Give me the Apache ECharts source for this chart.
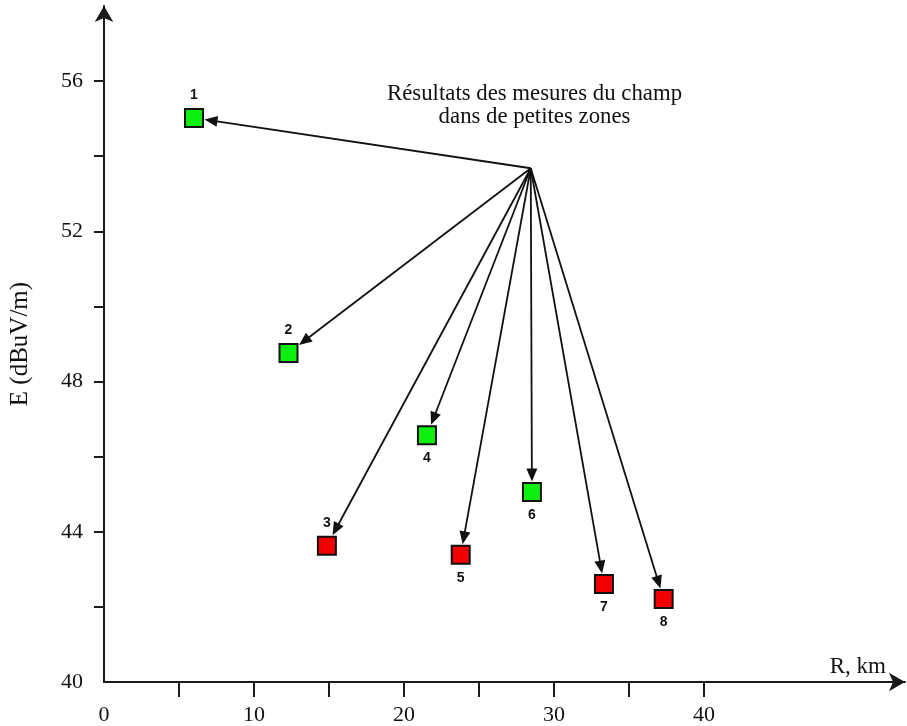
<!DOCTYPE html>
<html>
<head>
<meta charset="utf-8">
<script src="https://cdn.jsdelivr.net/npm/echarts@6/dist/echarts.min.js"></script>
<style>
html,body{margin:0;padding:0;background:#fff;}
#chart{width:907px;height:726px;}
</style>
</head>
<body>
<div id="chart"></div>
<script>
// ---- data ----
var pointIds = ['1', '2', '3', '4', '5', '6', '7', '8'];
var distanceKm = [6.0, 12.3, 14.86, 21.53, 23.78, 28.53, 33.33, 37.31];
var fieldDbuv = [55.02, 48.76, 43.63, 46.57, 43.39, 45.06, 42.61, 42.21];
var pointGroup = ['good', 'good', 'low', 'good', 'low', 'good', 'low', 'low'];
var arrowOrigin = [28.45, 53.68];
var xTickValues = [5, 10, 15, 20, 25, 30, 35, 40];
var xLabelValues = [0, 10, 20, 30, 40];
var yTickValues = [42, 44, 46, 48, 50, 52, 54, 56];
var yLabelValues = [40, 44, 48, 52, 56];
var annotationText = 'Résultats des mesures du champ\ndans de petites zones';
var xAxisName = 'R, km';
var yAxisName = 'E (dBuV/m)';

// ---- styling helpers ----
var groupColor = { good: '#0df00d', low: '#f20000' };
var labelSide = ['top', 'top', 'top', 'bottom', 'bottom', 'bottom', 'bottom', 'bottom'];
var serif = 'Liberation Serif';
var axisColor = '#1a1a1a';

var points = pointIds.map(function (id, i) {
  return {
    value: [distanceKm[i], fieldDbuv[i]],
    itemStyle: { color: groupColor[pointGroup[i]] },
    label: { position: labelSide[i] }
  };
});

var arrowData = pointIds.map(function (id, i) { return [distanceKm[i], fieldDbuv[i]]; });

var markerHalf = 10.5;
function renderArrow(params, api) {
  var o = api.coord(arrowOrigin);
  var t = api.coord([api.value(0), api.value(1)]);
  var dx = t[0] - o[0], dy = t[1] - o[1];
  var len = Math.sqrt(dx * dx + dy * dy);
  var ux = dx / len, uy = dy / len;
  var cut = markerHalf / Math.max(Math.abs(ux), Math.abs(uy));
  var tip = [t[0] - ux * cut, t[1] - uy * cut];
  var headLen = 13, headHalf = 5.5;
  var base = [tip[0] - ux * headLen, tip[1] - uy * headLen];
  var px = -uy, py = ux;
  return {
    type: 'group',
    children: [
      {
        type: 'line',
        shape: { x1: o[0], y1: o[1], x2: base[0] + ux * 2, y2: base[1] + uy * 2 },
        style: { stroke: '#111', lineWidth: 1.8 }
      },
      {
        type: 'polygon',
        shape: { points: [tip, [base[0] + px * headHalf, base[1] + py * headHalf], [base[0] - px * headHalf, base[1] - py * headHalf]] },
        style: { fill: '#111' }
      }
    ]
  };
}

var chart = echarts.init(document.getElementById('chart'));
chart.setOption({
  animation: false,
  backgroundColor: '#fff',
  grid: { left: 104, right: 2, top: 6, bottom: 44, containLabel: false, outerBoundsMode: 'none' },
  xAxis: {
    type: 'value', min: 0, max: 53.4,
    axisLine: { show: true, symbol: ['none', 'arrow'], symbolSize: [14, 16], lineStyle: { color: axisColor, width: 2 } },
    axisTick: { show: true, length: 15, customValues: xTickValues, lineStyle: { color: axisColor, width: 2 } },
    axisLabel: { customValues: xLabelValues, margin: 22, color: '#111', fontFamily: serif, fontSize: 22 },
    splitLine: { show: false }
  },
  yAxis: {
    type: 'value', min: 40, max: 58,
    axisLine: { show: true, symbol: ['none', 'arrow'], symbolSize: [14, 16], lineStyle: { color: axisColor, width: 2 } },
    axisTick: { show: true, length: 10, customValues: yTickValues, lineStyle: { color: axisColor, width: 2 } },
    axisLabel: { customValues: yLabelValues, margin: 21, color: '#111', fontFamily: serif, fontSize: 22 },
    splitLine: { show: false },
    name: yAxisName, nameLocation: 'middle', nameRotate: 90, nameGap: 71,
    nameTextStyle: { color: '#111', fontFamily: serif, fontSize: 25 }
  },
  graphic: [
    {
      type: 'text', left: 387, top: 83,
      style: { text: annotationText, textAlign: 'center', font: '22.8px "Liberation Serif"', lineHeight: 23, fill: '#111' }
    },
    {
      type: 'text', right: 907 - 886, top: 655,
      style: { text: xAxisName, font: '23px "Liberation Serif"', fill: '#111' }
    }
  ],
  series: [
    {
      type: 'custom',
      renderItem: renderArrow,
      data: arrowData,
      encode: { x: 0, y: 1 },
      z: 2,
      silent: true
    },
    {
      type: 'scatter',
      symbol: 'rect',
      symbolSize: 18,
      data: points,
      z: 3,
      itemStyle: { borderColor: '#111', borderWidth: 2, opacity: 1 },
      label: {
        show: true,
        formatter: function (p) { return pointIds[p.dataIndex]; },
        fontFamily: 'Liberation Sans', fontWeight: 'bold', fontSize: 14, color: '#111',
        distance: 6
      }
    }
  ]
});
</script>
</body>
</html>
